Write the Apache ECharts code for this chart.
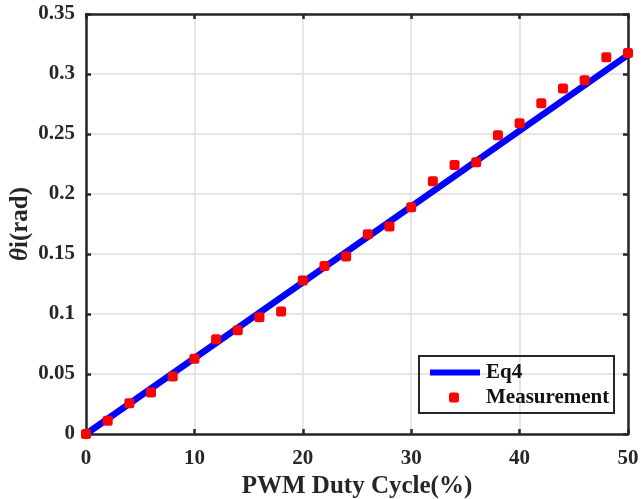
<!DOCTYPE html>
<html><head><meta charset="utf-8">
<script src="https://cdn.jsdelivr.net/npm/echarts@6/dist/echarts.min.js"></script>
<style>html,body{margin:0;padding:0;background:#fff}#c{width:641px;height:499px}</style>
</head><body><div id="c"></div>
<script>
const duty = [0,2,4,6,8,10,12,14,16,18,20,22,24,26,28,30,32,34,36,38,40,42,44,46,48,50];
const measured = [0.0,0.011,0.0256,0.0345,0.048,0.0628,0.079,0.0864,0.0973,0.102,0.128,0.140,0.148,0.1664,0.173,0.189,0.2106,0.2242,0.2264,0.249,0.259,0.2756,0.288,0.2948,0.314,0.3175];
const eqX = [0, 50];
const eqY = [0, 0.316];
const xTicks = [0,10,20,30,40,50];
const yTicks = [0,0.05,0.1,0.15,0.2,0.25,0.3,0.35];

const font = '"Liberation Serif","Times New Roman",serif';
const axisCol = '#262626';
const chart = echarts.init(document.getElementById('c'));
const baseAxis = () => ({
  axisLine:{show:true,onZero:false,lineStyle:{color:axisCol,width:2.5}},
  axisTick:{show:true,inside:true,length:5,lineStyle:{color:axisCol,width:2.5}},
});
chart.setOption({
  animation:false,
  grid:{left:86,top:14,width:542,height:420,show:false,containLabel:false,outerBoundsMode:'none'},
  xAxis:[
    Object.assign({type:'value',min:0,max:50,interval:10,position:'bottom',
      axisLabel:{color:axisCol,fontFamily:font,fontWeight:'bold',fontSize:21,margin:14},
      splitLine:{show:true,lineStyle:{color:'#dedede',width:1.5}},
      name:'PWM Duty Cycle(%)',nameLocation:'middle',nameGap:40,nameMoveOverlap:false,
      nameTextStyle:{color:axisCol,fontFamily:font,fontWeight:'bold',fontSize:25}},baseAxis()),
    Object.assign({type:'value',min:0,max:50,interval:10,position:'top',
      axisLabel:{show:false},splitLine:{show:false}},baseAxis())
  ],
  yAxis:[
    Object.assign({type:'value',min:0,max:0.35,interval:0.05,position:'left',
      axisLabel:{color:axisCol,fontFamily:font,fontWeight:'bold',fontSize:21,margin:11},
      splitLine:{show:true,lineStyle:{color:'#dedede',width:1.5}},
      name:'{it|θ}i(rad)',nameLocation:'middle',nameGap:53,nameRotate:90,nameMoveOverlap:false,
      nameTextStyle:{color:axisCol,fontFamily:font,fontWeight:'bold',fontSize:25,
        rich:{it:{fontStyle:'italic',fontFamily:font,fontWeight:'bold',fontSize:25,color:axisCol}}}},baseAxis()),
    Object.assign({type:'value',min:0,max:0.35,interval:0.05,position:'right',
      axisLabel:{show:false},splitLine:{show:false}},baseAxis())
  ],
  legend:[
    {data:['Eq4'],left:430,top:362,itemWidth:50,itemHeight:6,icon:'rect',itemGap:0,padding:0,
      textStyle:{color:'#111',fontFamily:font,fontWeight:'bold',fontSize:21,padding:[0,0,0,1]},selectedMode:false},
    {data:['Measurement'],left:449,top:387,itemWidth:10,itemHeight:10,icon:'roundRect',itemGap:0,padding:0,
      textStyle:{color:'#111',fontFamily:font,fontWeight:'bold',fontSize:21,padding:[0,0,0,22]},selectedMode:false}
  ],
  graphic:[{type:'rect',shape:{x:419,y:356,width:195,height:57},
    style:{fill:'none',stroke:axisCol,lineWidth:2},z:100}],
  series:[
    {name:'Eq4',type:'line',data:eqX.map((x,i)=>[x,eqY[i]]),showSymbol:false,
      lineStyle:{color:'#0000ff',width:6.5},itemStyle:{color:'#0000ff'},z:2},
    {name:'Measurement',type:'scatter',data:duty.map((x,i)=>[x,measured[i]]),
      symbol:'roundRect',symbolSize:10,itemStyle:{color:'#ff0000',opacity:1},z:3,clip:false}
  ]
});
</script></body></html>
